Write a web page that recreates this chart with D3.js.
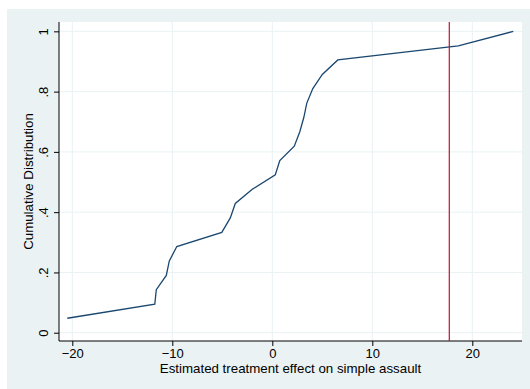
<!DOCTYPE html>
<html>
<head>
<meta charset="utf-8">
<script src="https://cdn.jsdelivr.net/npm/d3@7"></script>
<style>
  body { margin: 0; background: #fff; }
  svg { display: block; font-family: "Liberation Sans", Arial, sans-serif; }
  .grid line { stroke: #eaf2f3; stroke-width: 1; }
</style>
</head>
<body>
<div id="chart"></div>
<script>
// estimated effects (x) and cumulative share (y)
const effects = [-20.5, -11.75, -11.6, -10.6, -10.3, -9.55, -5.05, -4.2, -3.7, -2.0,
                 0.3, 0.75, 2.2, 2.75, 3.15, 3.45, 4.05, 5.0, 6.55, 18.6, 24.1];
const cumShare = [0.048, 0.095, 0.143, 0.19, 0.238, 0.286, 0.333, 0.381, 0.429, 0.476,
                  0.524, 0.571, 0.619, 0.667, 0.714, 0.762, 0.81, 0.857, 0.905, 0.952, 1];
const xTicks = [-20, -10, 0, 10, 20];
const yTicks = [0, 0.2, 0.4, 0.6, 0.8, 1];
const yTickLabels = ["0", ".2", ".4", ".6", ".8", "1"];
const actualEffect = 17.7;

const width = 530, height = 389;
const plot = { left: 59, right: 522, top: 22, bottom: 341 };

const svg = d3.select("#chart")
    .append("svg")
    .attr("width", width)
    .attr("height", height);

// graph region background
svg.append("rect")
    .attr("x", 7).attr("y", 9)
    .attr("width", width - 7).attr("height", height - 9)
    .attr("fill", "#eaf2f3");

svg.append("rect")
    .attr("x", plot.left).attr("y", plot.top)
    .attr("width", plot.right - plot.left).attr("height", plot.bottom - plot.top)
    .attr("fill", "#fff");

const xScale = d3.scaleLinear().domain([-21.33, 24.97]).range([plot.left, plot.right]);
const yScale = d3.scaleLinear().domain([-0.0275, 1.031]).range([plot.bottom, plot.top]);

// grid
svg.append("g").attr("class", "grid")
    .selectAll("line").data(yTicks).enter().append("line")
    .attr("x1", plot.left).attr("x2", plot.right)
    .attr("y1", d => yScale(d)).attr("y2", d => yScale(d));

svg.append("g").attr("class", "grid")
    .selectAll("line").data(xTicks).enter().append("line")
    .attr("y1", plot.top).attr("y2", plot.bottom)
    .attr("x1", d => xScale(d)).attr("x2", d => xScale(d));

// X axis
const xAxis = svg.append("g")
    .attr("transform", `translate(0,${plot.bottom})`)
    .call(d3.axisBottom(xScale).tickValues(xTicks).tickSize(5).tickSizeOuter(0));

// Y axis
const yAxis = svg.append("g")
    .attr("transform", `translate(${plot.left},0)`)
    .call(d3.axisLeft(yScale).tickValues(yTicks).tickSize(5).tickSizeOuter(0)
        .tickFormat((d, i) => yTickLabels[i]));

[xAxis, yAxis].forEach(a => {
    a.select(".domain").attr("stroke", "#000");
    a.selectAll(".tick line").attr("stroke", "#000");
    a.selectAll("text").attr("font-family", "Liberation Sans, Arial, sans-serif")
        .attr("font-size", 13).attr("fill", "#000");
});

// stretch axis lines over full plot region
xAxis.select(".domain").attr("d", `M${plot.left},0H${plot.right}`);
yAxis.select(".domain").attr("d", `M0,${plot.top}V${plot.bottom}`);

xAxis.selectAll("text").attr("y", 8);

yAxis.selectAll(".tick text")
    .attr("text-anchor", "middle")
    .attr("x", null).attr("dy", null)
    .attr("transform", "translate(-11,0) rotate(-90)");

// cumulative distribution line
const line = d3.line()
    .x((d, i) => xScale(effects[i]))
    .y(d => yScale(d));

svg.append("path")
    .datum(cumShare)
    .attr("fill", "none")
    .attr("stroke", "#1a476f")
    .attr("stroke-width", 1.3)
    .attr("d", line);

// reference line
svg.append("line")
    .attr("x1", xScale(actualEffect)).attr("x2", xScale(actualEffect))
    .attr("y1", plot.top).attr("y2", plot.bottom)
    .attr("stroke", "#c8102e")
    .attr("stroke-width", 1.2);

// axis titles
svg.append("text")
    .attr("x", (plot.left + plot.right) / 2)
    .attr("y", 373)
    .attr("text-anchor", "middle")
    .attr("font-size", 13.3)
    .text("Estimated treatment effect on simple assault");

svg.append("text")
    .attr("transform", "rotate(-90)")
    .attr("x", -(plot.top + plot.bottom) / 2)
    .attr("y", 33)
    .attr("text-anchor", "middle")
    .attr("font-size", 13.3)
    .text("Cumulative Distribution");
</script>
</body>
</html>
